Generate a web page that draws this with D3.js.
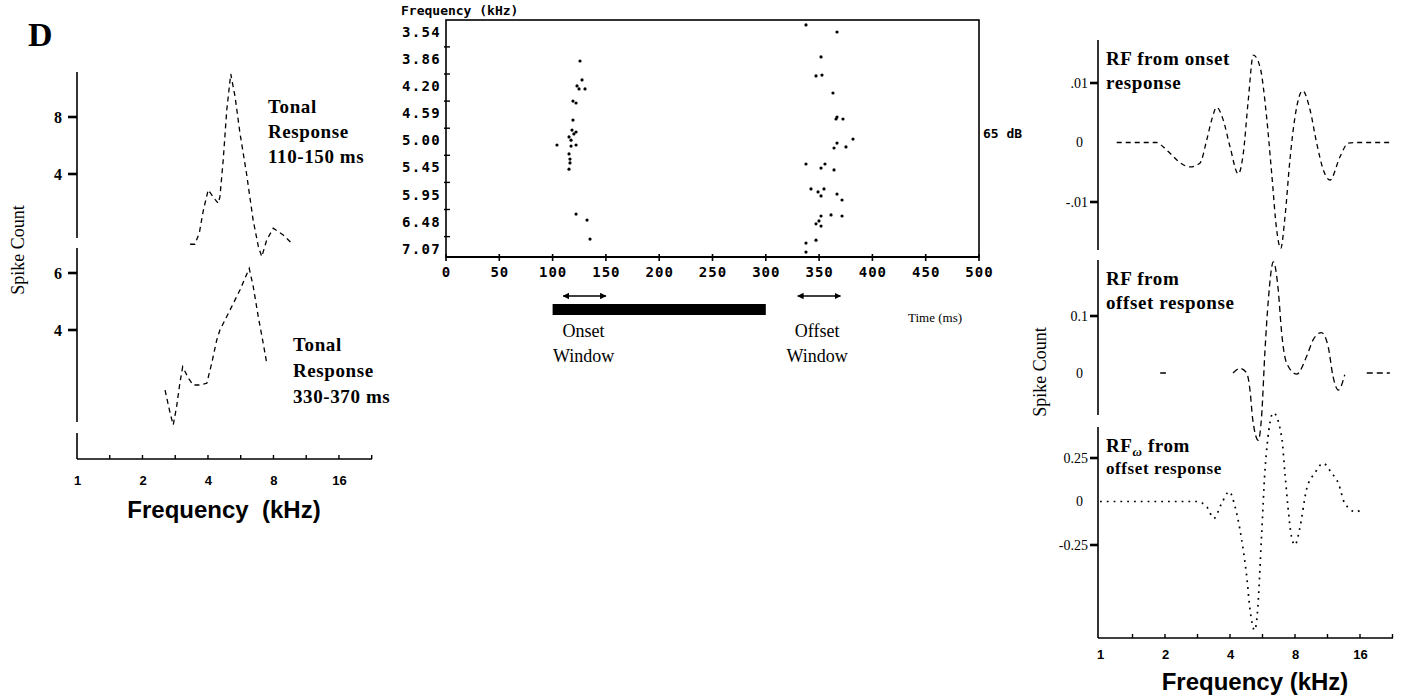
<!DOCTYPE html>
<html><head><meta charset="utf-8">
<script src="https://cdn.jsdelivr.net/npm/d3@7"></script>
<style>
html,body{margin:0;padding:0;background:#fff;}
svg{display:block;}
.serif{font-family:"Liberation Serif","Times New Roman",serif;}
.sans{font-family:"Liberation Sans",Arial,sans-serif;}
.mono{font-family:"DejaVu Sans Mono",monospace;}
</style>
</head><body>
<svg id="c" width="1403" height="699"></svg>
<script>
// ---------------- DATA ----------------
// Left panel: tonal response tuning curves
const onsetTonalFreq  = [3.31,3.48,3.65,3.81,4.01,4.31,4.46,4.54,4.70,4.88,5.09,5.33,5.61,6.01,6.45,6.82,7.07,7.45,7.98,8.87,9.81];
const onsetTonalCount = [-0.93,-0.93,-0.14,1.47,2.88,2.22,1.94,2.41,4.98,8.49,11.02,9.42,6.88,4.07,0.77,-1.10,-1.8,-0.63,0.19,-0.28,-0.93];
const offsetTonalFreq  = [2.54,2.68,2.77,2.87,2.97,3.06,3.25,3.42,3.68,3.95,4.16,4.39,4.54,5.05,5.61,6.19,6.46,6.81,7.18,7.45];
const offsetTonalCount = [1.89,1.08,0.67,1.31,2.13,2.71,2.31,2.07,2.07,2.13,2.83,3.65,4.0,4.70,5.40,6.16,5.52,4.47,3.53,2.83];
const leftUpperTicks = [4,8];
const leftLowerTicks = [4,6];
const freqTickLabels = [1,2,4,8,16];

// Middle panel: raster
const rasterFreqLabels = ["3.54","3.86","4.20","4.59","5.00","5.45","5.95","6.48","7.07"];
const timeTicks = [0,50,100,150,200,250,300,350,400,450,500];
// spikes: time (ms), row position (frequency row index + trial fraction)
const spikeTimes = [125.7,127.6,122.9,124.8,130.4,119.1,122,119.1,118.2,122,120,115.4,117.3,104.1,117.3,122,115.4,116.3,116.3,115.4,122,132.3,135.1,
  337.7,366.8,351.8,347.1,352.7,363,365.9,366.8,372.4,381.8,366.8,364,375.2,337.7,351.8,355.5,364,342.4,349,354.6,351.8,366.8,371.5,361.2,371.5,351.8,349.9,347.1,351.8,347.1,337.7,337.7];
const spikeRows = [1.07,1.77,1.99,2.10,2.10,2.55,2.62,3.25,3.62,3.69,3.76,3.87,3.99,4.17,4.21,4.17,4.50,4.69,4.83,5.06,6.72,6.94,7.64,
  -0.26,0,0.92,1.62,1.59,2.25,3.21,3.14,3.21,3.95,4.10,4.28,4.24,4.87,5.02,4.87,5.09,5.79,5.90,5.79,6.05,5.98,6.20,6.75,6.79,6.79,6.97,7.08,7.16,7.68,7.79,8.12];
const toneOnOff = [100,300];
const onsetWindow = [110,150];
const offsetWindow = [330,370];

// Right panel: receptive fields
const rfOnsetFreq = [1.195,1.83,1.96,2.11,2.35,2.61,2.90,3.12,3.29,3.47,3.72,4.0,4.37,4.61,4.86,5.13,5.51,5.91,6.24,6.58,6.87,7.19,7.58,8.0,8.68,9.39,10.08,10.82,11.62,12.93,14.12,15.44,22.4];
const rfOnsetVal  = [0,0,-0.0007,-0.0018,-0.0034,-0.0041,-0.0035,0.0004,0.0038,0.0059,0.0038,-0.0007,-0.0053,-0.0018,0.0071,0.0147,0.0127,0.0043,-0.0052,-0.0147,-0.0178,-0.0125,-0.0029,0.0043,0.0087,0.0055,-0.0001,-0.0046,-0.0063,-0.0024,-0.0001,0,0];
const rfOffsetFreq = [1.90,2.02,null,4.13,4.45,4.78,4.95,5.1,5.41,5.6,5.81,6.02,6.35,6.69,6.94,7.32,8.15,9.05,9.7,10.6,11.4,12.0,12.7,13.6,null,17.2,22.0];
const rfOffsetVal  = [0,0,null,0,0.008,0,-0.03,-0.082,-0.118,-0.077,0.04,0.128,0.195,0.146,0.07,0.017,-0.002,0.029,0.058,0.071,0.046,-0.006,-0.03,-0.003,null,0,0];
const rfwFreq = [1.0,2.81,3.12,3.37,3.66,3.97,4.22,4.53,4.78,4.95,5.2,5.35,5.6,5.81,5.95,6.35,6.94,7.2,7.42,7.7,8.0,8.4,9.05,9.9,10.8,11.8,12.7,13.6,15.4,16.5];
const rfwVal  = [0,0,-0.03,-0.097,-0.01,0.057,-0.03,-0.22,-0.43,-0.62,-0.74,-0.65,-0.2,0.18,0.33,0.51,0.37,0.15,-0.03,-0.2,-0.25,-0.16,0.07,0.165,0.22,0.165,0.105,-0.01,-0.06,-0.03];

// ---------------- DRAW ----------------
const svg = d3.select("#c");
svg.append("rect").attr("width",1403).attr("height",699).attr("fill","#fff");
const zip = (a,b)=>a.map((d,i)=>[d,b[i]]);
const halfOctaves = d3.range(1,10).map(k=>Math.pow(2,k/2));

function styleAxis(g, cls, size, weight){
  g.select(".domain").remove();
  g.selectAll(".tick line").remove();
  g.selectAll("text").attr("class",cls).style("font-size",size+"px").style("font-weight",weight).attr("fill","#000");
}
function seg(x1,y1,x2,y2,w){
  svg.append("line").attr("x1",x1).attr("y1",y1).attr("x2",x2).attr("y2",y2).attr("stroke","#000").attr("stroke-width",w);
}
// explicit tick marks drawn as small filled rects
function hTicks(scale, vals, xAxis, len, w){
  svg.append("g").selectAll("rect").data(vals).join("rect")
    .attr("x",xAxis).attr("y",d=>scale(d)-w/2).attr("width",len).attr("height",w).attr("fill","#000");
}
function vTicks(scale, vals, yTop, len, w){
  svg.append("g").selectAll("rect").data(vals).join("rect")
    .attr("x",d=>scale(d)-w/2).attr("y",yTop).attr("width",w).attr("height",len).attr("fill","#000");
}

// ===== Panel D label =====
svg.append("text").attr("class","serif").attr("x",28).attr("y",46).style("font-size","34px").style("font-weight","bold").text("D");

// ===== LEFT PANEL =====
const xL = d3.scaleLog().base(2).domain([1,22.7]).range([77,372]);
const yU = d3.scaleLinear().domain([4,8]).range([174,117]);
const yLo = d3.scaleLinear().domain([4,6]).range([330,273]);
const axisXLeft = 77;
[[72,238],[248,422],[433,459]].forEach(s=>seg(axisXLeft,s[0],axisXLeft,s[1],1.6));
seg(axisXLeft,459,372,459,1.6);
const gLU = svg.append("g").attr("transform",`translate(${axisXLeft},0)`).call(d3.axisLeft(yU).tickValues(leftUpperTicks).tickSize(0).tickPadding(15).tickFormat(d3.format("d")));
styleAxis(gLU,"serif",16,"bold");
hTicks(yU,leftUpperTicks,axisXLeft-9,9,2.6);
const gLL = svg.append("g").attr("transform",`translate(${axisXLeft},0)`).call(d3.axisLeft(yLo).tickValues(leftLowerTicks).tickSize(0).tickPadding(15).tickFormat(d3.format("d")));
styleAxis(gLL,"serif",16,"bold");
hTicks(yLo,leftLowerTicks,axisXLeft-9,9,2.6);
const gLX = svg.append("g").attr("transform","translate(0,459)").call(d3.axisBottom(xL).tickValues(freqTickLabels).tickSize(0).tickPadding(17).tickFormat(d3.format("d")));
styleAxis(gLX,"sans",13,"bold");
vTicks(xL,halfOctaves,455,4,1.4);

const lineUp = d3.line().x(d=>xL(d[0])).y(d=>yU(d[1]));
const lineLo = d3.line().x(d=>xL(d[0])).y(d=>yLo(d[1]));
svg.append("path").attr("d",lineUp(zip(onsetTonalFreq,onsetTonalCount))).attr("fill","none").attr("stroke","#000").attr("stroke-width",1.3).attr("stroke-dasharray","5,4");
svg.append("path").attr("d",lineLo(zip(offsetTonalFreq,offsetTonalCount))).attr("fill","none").attr("stroke","#000").attr("stroke-width",1.3).attr("stroke-dasharray","5,4");

function multiText(x,y,lines,lh,size,weight,cls,anchor){
  const t = svg.append("text").attr("class",cls).attr("x",x).attr("y",y).style("font-size",size+"px").style("font-weight",weight).attr("text-anchor",anchor||"start");
  lines.forEach((l,i)=>t.append("tspan").attr("x",x).attr("dy",i?lh:0).text(l));
  return t;
}
multiText(268,113,["Tonal","Response","110-150 ms"],25,19,"bold","serif").style("letter-spacing","0.6px");
multiText(293,351,["Tonal","Response","330-370 ms"],26,19,"bold","serif").style("letter-spacing","0.6px");
svg.append("text").attr("class","serif").attr("transform","translate(24,250) rotate(-90)").attr("text-anchor","middle").style("font-size","18px").text("Spike Count");
svg.append("text").attr("class","sans").attr("x",224).attr("y",518).attr("text-anchor","middle").style("font-size","24px").style("font-weight","bold").attr("xml:space","preserve").text("Frequency  (kHz)");

// ===== MIDDLE PANEL: RASTER =====
const xT = d3.scaleLinear().domain([0,500]).range([446,979]);
const yR = d3.scaleLinear().domain([0,8]).range([32,248.8]);
const frame = {top:20,bottom:257};
svg.append("rect").attr("x",xT(0)).attr("y",frame.top).attr("width",xT(500)-xT(0)).attr("height",frame.bottom-frame.top).attr("fill","none").attr("stroke","#000").attr("stroke-width",1.6);
seg(xT(0),frame.bottom,xT(500),frame.bottom,2.2);
const gTX = svg.append("g").attr("transform",`translate(0,${frame.bottom})`).call(d3.axisBottom(xT).tickValues(timeTicks).tickSize(0).tickPadding(10).tickFormat(d3.format("d")));
styleAxis(gTX,"mono",14,"bold"); gTX.selectAll("text").style("letter-spacing","1px");
vTicks(xT,timeTicks,frame.bottom-3,7,1.6);
const gTY = svg.append("g").attr("transform",`translate(${xT(0)},0)`).call(d3.axisLeft(yR).tickValues(d3.range(rasterFreqLabels.length)).tickSize(0).tickPadding(5).tickFormat(i=>rasterFreqLabels[i]));
styleAxis(gTY,"mono",14,"bold"); gTY.selectAll("text").style("letter-spacing","1.3px");
hTicks(yR,d3.range(0.55,8,1),xT(0)-2,6,1.4);
svg.append("text").attr("class","mono").attr("x",401).attr("y",15).style("font-size","13px").style("font-weight","bold").text("Frequency (kHz)");
svg.append("text").attr("class","mono").attr("x",983).attr("y",138).style("font-size","13px").style("font-weight","bold").text("65 dB");
svg.append("g").selectAll("circle").data(zip(spikeTimes,spikeRows)).join("circle")
  .attr("cx",d=>xT(d[0])).attr("cy",d=>yR(d[1])).attr("r",1.6).attr("fill","#000");

// stimulus bar and windows
svg.append("rect").attr("x",xT(toneOnOff[0])).attr("y",304).attr("width",xT(toneOnOff[1])-xT(toneOnOff[0])).attr("height",11).attr("fill","#000");
const defs = svg.append("defs");
defs.append("marker").attr("id","ah").attr("viewBox","0 0 10 10").attr("refX",9).attr("refY",5).attr("markerWidth",5).attr("markerHeight",5).attr("orient","auto-start-reverse")
  .append("path").attr("d","M0,0 L10,5 L0,10 z").attr("fill","#000");
[onsetWindow,offsetWindow].forEach(w=>{
  svg.append("line").attr("x1",xT(w[0])).attr("x2",xT(w[1])).attr("y1",296).attr("y2",296).attr("stroke","#000").attr("stroke-width",1.3)
    .attr("marker-start","url(#ah)").attr("marker-end","url(#ah)");
});
multiText(xT(d3.mean(onsetWindow))-1,337,["Onset","Window"],25,18,"normal","serif","middle");
multiText(xT(d3.mean(offsetWindow))-2,337,["Offset","Window"],25,18,"normal","serif","middle");
svg.append("text").attr("class","serif").attr("x",908).attr("y",322).style("font-size","13px").text("Time (ms)");

// ===== RIGHT PANEL =====
const xR = d3.scaleLog().base(2).domain([1,22.75]).range([1100,1393]);
const y1 = d3.scaleLinear().domain([-0.01,0.01]).range([202,83]);
const y2 = d3.scaleLinear().domain([0,0.1]).range([373,316]);
const y3 = d3.scaleLinear().domain([-0.25,0.25]).range([545,458]);
const axR = 1098;
[[40,250],[260,415],[427,638]].forEach(s=>seg(axR,s[0],axR,s[1],1.6));
seg(axR,638,1393,638,1.6);
function rAxis(scale, vals, fmt){
  const g = svg.append("g").attr("transform",`translate(${axR},0)`).call(d3.axisLeft(scale).tickValues(vals).tickSize(0).tickPadding(10).tickFormat(fmt));
  styleAxis(g,"serif",14,"normal");
  hTicks(scale,vals,axR-8,8,2.6);
  const g0 = svg.append("g").attr("transform",`translate(${axR},0)`).call(d3.axisLeft(scale).tickValues([0]).tickSize(0).tickPadding(15).tickFormat(()=> "0"));
  styleAxis(g0,"serif",14,"normal");
}
rAxis(y1,[0.01,-0.01],d=>d>0?".01":"-.01");
rAxis(y2,[0.1],()=> "0.1");
rAxis(y3,[0.25,-0.25],d=>d>0?"0.25":"-0.25");
const gRX = svg.append("g").attr("transform","translate(0,638)").call(d3.axisBottom(xR).tickValues(freqTickLabels).tickSize(0).tickPadding(12).tickFormat(d3.format("d")));
styleAxis(gRX,"sans",13,"bold");
vTicks(xR,halfOctaves,634,4,1.4);

const l1 = d3.line().defined(d=>d[0]!=null).x(d=>xR(d[0])).y(d=>y1(d[1])).curve(d3.curveMonotoneX);
const l2 = d3.line().defined(d=>d[0]!=null).x(d=>xR(d[0])).y(d=>y2(d[1])).curve(d3.curveMonotoneX);
const l3 = d3.line().defined(d=>d[0]!=null).x(d=>xR(d[0])).y(d=>y3(d[1])).curve(d3.curveMonotoneX);
svg.append("path").attr("d",l1(zip(rfOnsetFreq,rfOnsetVal))).attr("fill","none").attr("stroke","#000").attr("stroke-width",1.3).attr("stroke-dasharray","5,4");
svg.append("path").attr("d",l2(zip(rfOffsetFreq,rfOffsetVal))).attr("fill","none").attr("stroke","#000").attr("stroke-width",1.3).attr("stroke-dasharray","6,4");
svg.append("path").attr("d",l3(zip(rfwFreq,rfwVal))).attr("fill","none").attr("stroke","#000").attr("stroke-width",1.7).attr("stroke-dasharray","1.8,5");

multiText(1106,65,["RF from onset","response"],24,19,"bold","serif").style("letter-spacing","0.6px");
multiText(1106,285,["RF from","offset response"],24,19,"bold","serif").style("letter-spacing","0.6px");
const tw = svg.append("text").attr("class","serif").attr("x",1106).attr("y",452).style("font-size","19px").style("font-weight","bold").style("letter-spacing","0.6px");
tw.append("tspan").text("RF");
tw.append("tspan").attr("dy",4).style("font-size","13px").style("font-style","italic").text("ω");
tw.append("tspan").attr("dy",-4).text(" from");
svg.append("text").attr("class","serif").attr("x",1106).attr("y",474).style("font-size","17px").style("font-weight","bold").style("letter-spacing","0.6px").text("offset response");
svg.append("text").attr("class","serif").attr("transform","translate(1046,372) rotate(-90)").attr("text-anchor","middle").style("font-size","18px").text("Spike Count");
svg.append("text").attr("class","sans").attr("x",1255).attr("y",690).attr("text-anchor","middle").style("font-size","24px").style("font-weight","bold").text("Frequency (kHz)");
</script>
</body></html>
